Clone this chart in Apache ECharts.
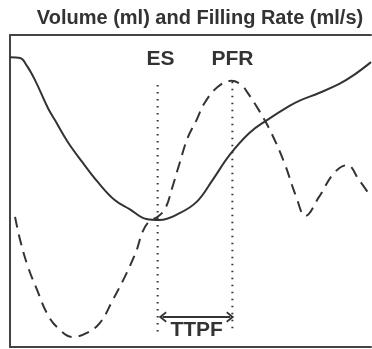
<!DOCTYPE html>
<html>
<head>
<meta charset="utf-8">
<script src="https://cdn.jsdelivr.net/npm/echarts@6/dist/echarts.min.js"></script>
<style>html,body{margin:0;padding:0;background:#fff;overflow:hidden;}#c{width:372px;height:349px;}</style>
</head>
<body>
<div id="c"></div>
<script>
// time (% of cycle) and values (arbitrary units)
const volumeTime = [0, 2.8, 4.7, 6.9, 10.5, 12.4, 16.0, 20.2, 24.3, 29.0, 33.1, 37.8, 41.4, 47.0, 51.7, 56.1, 60.8, 66.3, 71.3, 77.3, 80.1, 85.6, 91.2, 95.3, 100];
const volumeValues = [92.9, 92.6, 90.1, 85.6, 76.6, 72.8, 65.7, 59.0, 52.9, 47.1, 44.2, 41.0, 40.7, 42.9, 46.5, 53.5, 61.5, 68.6, 72.8, 77.2, 78.9, 81.4, 84.3, 87.2, 91.3];

const rateTime = [1.4, 2.8, 5.0, 7.5, 10.2, 13.0, 17.4, 21.3, 24.9, 28.5, 32.3, 35.1, 36.7, 38.7, 40.9, 43.1, 45.0, 47.0, 49.2, 51.7, 53.9, 57.5, 61.3, 64.1, 65.7, 69.1, 72.4, 76.0, 79.3, 81.8, 85.6, 89.8, 93.4, 96.7, 100];
const rateValues = [41.7, 34.3, 25.6, 18.3, 10.9, 6.4, 3.2, 4.5, 7.7, 15.1, 23.7, 31.1, 36.9, 40.4, 41.7, 44.6, 51.3, 59.0, 67.0, 72.8, 78.2, 83.3, 85.3, 84.0, 81.7, 75.6, 68.6, 59.0, 48.1, 42.0, 48.1, 55.8, 58.3, 53.5, 48.1];

// event markers
const esTime = 40.9;
const pfrTime = 61.6;
const markerRange = [5.0, 84.0];

// annotation labels
const labelNames = ['ES', 'PFR', 'TTPF'];
const labelX = [41.7, 61.6, 51.7];
const labelY = [92.3, 92.3, 5.4];
const ttpfArrow = [42.3, 61.0, 9.6];

const zip = (a, b) => a.map((v, i) => [v, b[i]]);
const ink = '#333';
const frame = {show: true, lineStyle: {color: '#444', width: 2}};
const hidden = {axisTick: {show: false}, axisLabel: {show: false}, splitLine: {show: false}};

const chart = echarts.init(document.getElementById('c'), null, {renderer: 'canvas'});
chart.setOption({
  animation: false,
  title: {
    text: 'Volume (ml) and Filling Rate (ml/s)',
    left: 195, top: 3, textAlign: 'center',
    textStyle: {fontFamily: 'Liberation Sans, Arial, sans-serif', fontWeight: 'bold', fontSize: 20, color: ink}
  },
  grid: {left: 10, right: 1, top: 35, bottom: 2},
  xAxis: [
    Object.assign({type: 'value', min: 0, max: 100, position: 'bottom', axisLine: frame}, hidden),
    Object.assign({type: 'value', min: 0, max: 100, position: 'top', axisLine: frame}, hidden)
  ],
  yAxis: Object.assign({type: 'value', min: 0, max: 100, position: 'left', axisLine: frame}, hidden),
  series: [
    {
      type: 'line', data: zip(volumeTime, volumeValues), smooth: 0.4, symbol: 'none',
      lineStyle: {color: ink, width: 2}, z: 3
    },
    {
      type: 'line', data: zip(rateTime, rateValues), smooth: 0.4, symbol: 'none',
      lineStyle: {color: ink, width: 2, type: [11, 7]}, z: 3
    },
    {
      type: 'line', data: [[esTime, markerRange[0]], [esTime, markerRange[1]]], symbol: 'none',
      lineStyle: {color: ink, width: 2, type: [1.5, 5.5]}
    },
    {
      type: 'line', data: [[pfrTime, markerRange[0] + 1], [pfrTime, markerRange[1] + 1.5]], symbol: 'none',
      lineStyle: {color: ink, width: 2, type: [1.5, 5.5]}
    },
    {
      type: 'line', data: [[ttpfArrow[0], ttpfArrow[2]], [ttpfArrow[1], ttpfArrow[2]]], symbol: 'none',
      lineStyle: {color: ink, width: 2},
      markLine: {
        silent: true,
        symbol: ['path://M5,0 L10,7 L8.6,8 L5,3 L1.4,8 L0,7 Z', 'path://M5,0 L10,7 L8.6,8 L5,3 L1.4,8 L0,7 Z'],
        symbolSize: [11, 8],
        label: {show: false},
        lineStyle: {color: ink, width: 2, type: 'solid'},
        data: [[{coord: [ttpfArrow[0], ttpfArrow[2]]}, {coord: [ttpfArrow[1], ttpfArrow[2]]}]]
      }
    },
    {
      type: 'scatter', symbolSize: 0, itemStyle: {opacity: 1},
      data: labelNames.map((n, i) => ({name: n, value: [labelX[i], labelY[i]]})),
      label: {
        show: true, position: 'inside', formatter: p => p.name, opacity: 1,
        fontFamily: 'Liberation Sans, Arial, sans-serif', fontWeight: 'bold', fontSize: 21, color: ink
      }
    }
  ]
});
</script>
</body>
</html>
